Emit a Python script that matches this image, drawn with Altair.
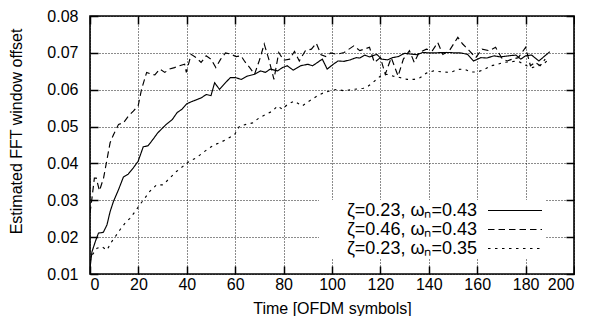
import altair as alt
import pandas as pd

labels = ["ζ=0.23, ωₙ=0.43", "ζ=0.46, ωₙ=0.43", "ζ=0.23, ωₙ=0.35"]

x_s1 = [0, 0.8, 2.2, 3.5, 5.5, 7, 8.3, 9.7, 11.8, 13.8,
        15.8, 17.9, 19.9, 22, 24, 26, 28, 31.5, 34, 36,
        38, 40, 42.5, 44.5, 46, 48, 50, 51.5, 53.5, 56,
        58, 60, 62.5, 65, 68, 70.5, 72.5, 74.5, 77.5, 79.5,
        81.5, 84, 87, 90, 92, 94, 96, 98, 100.5, 102.5,
        105, 107.5, 110, 111.5, 113.5, 115.5, 118.5, 120.5, 123, 125,
        127.5, 130, 132, 135, 137.5, 140, 143, 145.5, 149, 150.5,
        153, 156, 158.5, 161.5, 164, 167, 169.5, 173, 176, 178,
        180, 182.5, 185.5, 188, 190]
y_s1 = [0.0115, 0.0160, 0.0188, 0.0211, 0.0213, 0.0233, 0.0269, 0.0297, 0.0329, 0.0363,
        0.0371, 0.0388, 0.0406, 0.0445, 0.0448, 0.0465, 0.0483, 0.0506, 0.0519, 0.0538,
        0.0547, 0.0562, 0.0569, 0.0574, 0.0578, 0.0587, 0.0584, 0.0619, 0.0601, 0.0619,
        0.0633, 0.0633, 0.0628, 0.0637, 0.0642, 0.0651, 0.0647, 0.0656, 0.0651, 0.0660,
        0.0665, 0.0653, 0.0665, 0.0669, 0.0665, 0.0674, 0.0683, 0.0656, 0.0669, 0.0678,
        0.0677, 0.0681, 0.0687, 0.0686, 0.0694, 0.0689, 0.0696, 0.0683, 0.0681, 0.0687,
        0.0690, 0.0699, 0.0697, 0.0695, 0.0701, 0.0700, 0.0700, 0.0701, 0.0701, 0.0700,
        0.0700, 0.0696, 0.0678, 0.0687, 0.0686, 0.0692, 0.0689, 0.0692, 0.0694, 0.0683,
        0.0692, 0.0694, 0.0678, 0.0692, 0.0703]

x_s2 = [0, 0.8, 1.8, 2.6, 3.9, 5.6, 7, 8.3, 9.7, 11.8,
        13.8, 15.8, 17.9, 19.9, 21.3, 23.4, 25.4, 26.8, 28.8, 30.9,
        32.9, 34.9, 37, 39.1, 39.8, 41.8, 43.9, 45.9, 48, 50,
        52, 54, 56, 58.3, 60.4, 62.4, 64, 66, 68, 70,
        72, 74, 76, 78, 80, 82.5, 84.5, 86.5, 89, 91.5,
        93.5, 95.5, 97.5, 99.5, 102, 105, 109, 111.5, 115.5, 117.5,
        120, 122, 124.5, 127.3, 129.5, 132, 134, 136, 139, 141.5,
        143.7, 145.8, 148.5, 152, 154, 156.7, 159.4, 162, 165, 167.6,
        170.4, 172.4, 174.5, 177, 180, 182, 184, 186, 188.1]
y_s2 = [0.0265, 0.0305, 0.0360, 0.0360, 0.0326, 0.0360, 0.0410, 0.0456, 0.0478, 0.0506,
        0.0510, 0.0528, 0.0542, 0.0556, 0.0601, 0.0647, 0.0642, 0.0640, 0.0656, 0.0647,
        0.0656, 0.0660, 0.0665, 0.0669, 0.0647, 0.0696, 0.0687, 0.0674, 0.0692, 0.0683,
        0.0660, 0.0683, 0.0700, 0.0696, 0.0690, 0.0692, 0.0676, 0.0660, 0.0642, 0.0680,
        0.0724, 0.0680, 0.0628, 0.0701, 0.0680, 0.0683, 0.0704, 0.0678, 0.0706, 0.0710,
        0.0726, 0.0695, 0.0690, 0.0700, 0.0696, 0.0701, 0.0719, 0.0706, 0.0715, 0.0674,
        0.0687, 0.0642, 0.0687, 0.0637, 0.0683, 0.0706, 0.0674, 0.0701, 0.0710, 0.0706,
        0.0728, 0.0696, 0.0706, 0.0742, 0.0724, 0.0706, 0.0687, 0.0710, 0.0706, 0.0715,
        0.0683, 0.0678, 0.0683, 0.0687, 0.0715, 0.0665, 0.0674, 0.0665, 0.0683]

x_s3 = [0, 0.8, 2.9, 4.9, 7, 9, 10.4, 12.4, 14.5, 16.5,
        18.6, 20.6, 22.7, 24.7, 27.5, 30.2, 32.9, 35.7, 38.4, 41.1,
        43.9, 46.6, 49.3, 51.5, 53.6, 56.3, 59.7, 61.8, 64.5, 67.2,
        70, 72.7, 75.4, 77.5, 79.5, 81.6, 84.3, 87.7, 90.5, 93.9,
        96.6, 99.3, 102, 105, 109, 113, 115, 117, 120, 122.5,
        125.3, 128, 131, 134, 136.5, 139, 142, 146, 149, 152,
        154.6, 157.4, 160.1, 163, 165.6, 168, 171, 174, 176.5, 178.5,
        180.5, 182.7, 185.4, 188.1, 190]
y_s3 = [0.0135, 0.0151, 0.0170, 0.0174, 0.0165, 0.0188, 0.0201, 0.0220, 0.0238, 0.0251,
        0.0269, 0.0288, 0.0306, 0.0324, 0.0342, 0.0342, 0.0360, 0.0378, 0.0392, 0.0406,
        0.0415, 0.0429, 0.0442, 0.0451, 0.0456, 0.0465, 0.0478, 0.0501, 0.0506, 0.0510,
        0.0524, 0.0533, 0.0542, 0.0556, 0.0547, 0.0560, 0.0569, 0.0556, 0.0569, 0.0583,
        0.0592, 0.0597, 0.0601, 0.0597, 0.0601, 0.0604, 0.0610, 0.0620, 0.0637, 0.0642,
        0.0637, 0.0633, 0.0628, 0.0628, 0.0633, 0.0645, 0.0651, 0.0648, 0.0647, 0.0655,
        0.0656, 0.0648, 0.0648, 0.0655, 0.0665, 0.0668, 0.0674, 0.0676, 0.0678, 0.0672,
        0.0665, 0.0660, 0.0665, 0.0674, 0.0685]

x_ticks = [0, 20, 40, 60, 80, 100, 120, 140, 160, 180, 200]
y_ticks = [0.01, 0.02, 0.03, 0.04, 0.05, 0.06, 0.07, 0.08]

rows = []
for lab, xs_, ys_ in zip(labels, [x_s1, x_s2, x_s3], [y_s1, y_s2, y_s3]):
    for a, b in zip(xs_, ys_):
        rows.append({"t": a, "v": b, "s": lab})
df = pd.DataFrame(rows)

W, H = 484, 258
FONT = "Liberation Sans"
xscale = alt.Scale(domain=[0, 200], nice=False, zero=False)
yscale = alt.Scale(domain=[0.01, 0.08], nice=False, zero=False)

lines = alt.Chart(df).mark_line(color="black", strokeWidth=1.15, clip=True).encode(
    x=alt.X("t:Q", scale=xscale, axis=alt.Axis(
        values=x_ticks, format="d", title="Time [OFDM symbols]",
        grid=True, gridDash=[1, 2], gridColor="black", gridWidth=1, gridOpacity=0.9,
        ticks=False, domain=False, labelPadding=2, labelFontSize=16, labelFont=FONT,
        labelColor="black", titleFont=FONT, titleFontSize=16, titleFontWeight="normal",
        titleColor="black", titlePadding=8)),
    y=alt.Y("v:Q", scale=yscale, axis=alt.Axis(
        values=y_ticks, format=".2f", title="Estimated FFT window offset",
        grid=True, gridDash=[1, 2], gridColor="black", gridWidth=1, gridOpacity=0.9,
        ticks=False, domain=False, labelPadding=12, labelFontSize=16, labelFont=FONT,
        labelColor="black", titleFont=FONT, titleFontSize=16, titleFontWeight="normal",
        titleColor="black", titlePadding=22, titleY=115)),
    strokeDash=alt.StrokeDash("s:N", scale=alt.Scale(domain=labels, range=[[1, 0], [6.5, 4], [2.5, 4.5]]),
        legend=alt.Legend(orient="none", legendX=229, legendY=184, title=None,
                          symbolType="M-3,0H3", symbolSize=324, symbolStrokeWidth=1,
                          symbolStrokeColor="black",
                          labelAlign="right", labelOffset={"expr": "-47.5"}, symbolOffset=185.5,
                          rowPadding=0, labelFontSize=18, labelFont=FONT,
                          labelColor="black", labelLimit=400, fillColor="white", padding=1)),
)

tick_style = dict(labels=False, ticks=True, tickSize=8, tickWidth=1.5, tickColor="black",
                  domain=False, grid=False, title=None)

ticks_a = alt.Chart(df).mark_point(opacity=0).encode(
    x=alt.X("t:Q", scale=xscale, axis=alt.Axis(orient="top", offset=-H, values=x_ticks, **tick_style)),
    y=alt.Y("v:Q", scale=yscale, axis=alt.Axis(orient="right", offset=-W, values=y_ticks, **tick_style)),
)
ticks_b = alt.Chart(df).mark_point(opacity=0).encode(
    x=alt.X("t:Q", scale=xscale, axis=alt.Axis(orient="bottom", offset=-H, values=x_ticks, **tick_style)),
    y=alt.Y("v:Q", scale=yscale, axis=alt.Axis(orient="left", offset=-W, values=y_ticks, **tick_style)),
)

chart = alt.layer(lines, ticks_a, ticks_b).resolve_axis(
    x="independent", y="independent"
).properties(
    width=W, height=H, padding={"left": 0, "top": 0, "right": 0, "bottom": 0},
    background="white"
).configure_view(stroke="black", strokeWidth=1.6)

chart.save("out.html", embed_options={"renderer": "svg", "actions": False})
